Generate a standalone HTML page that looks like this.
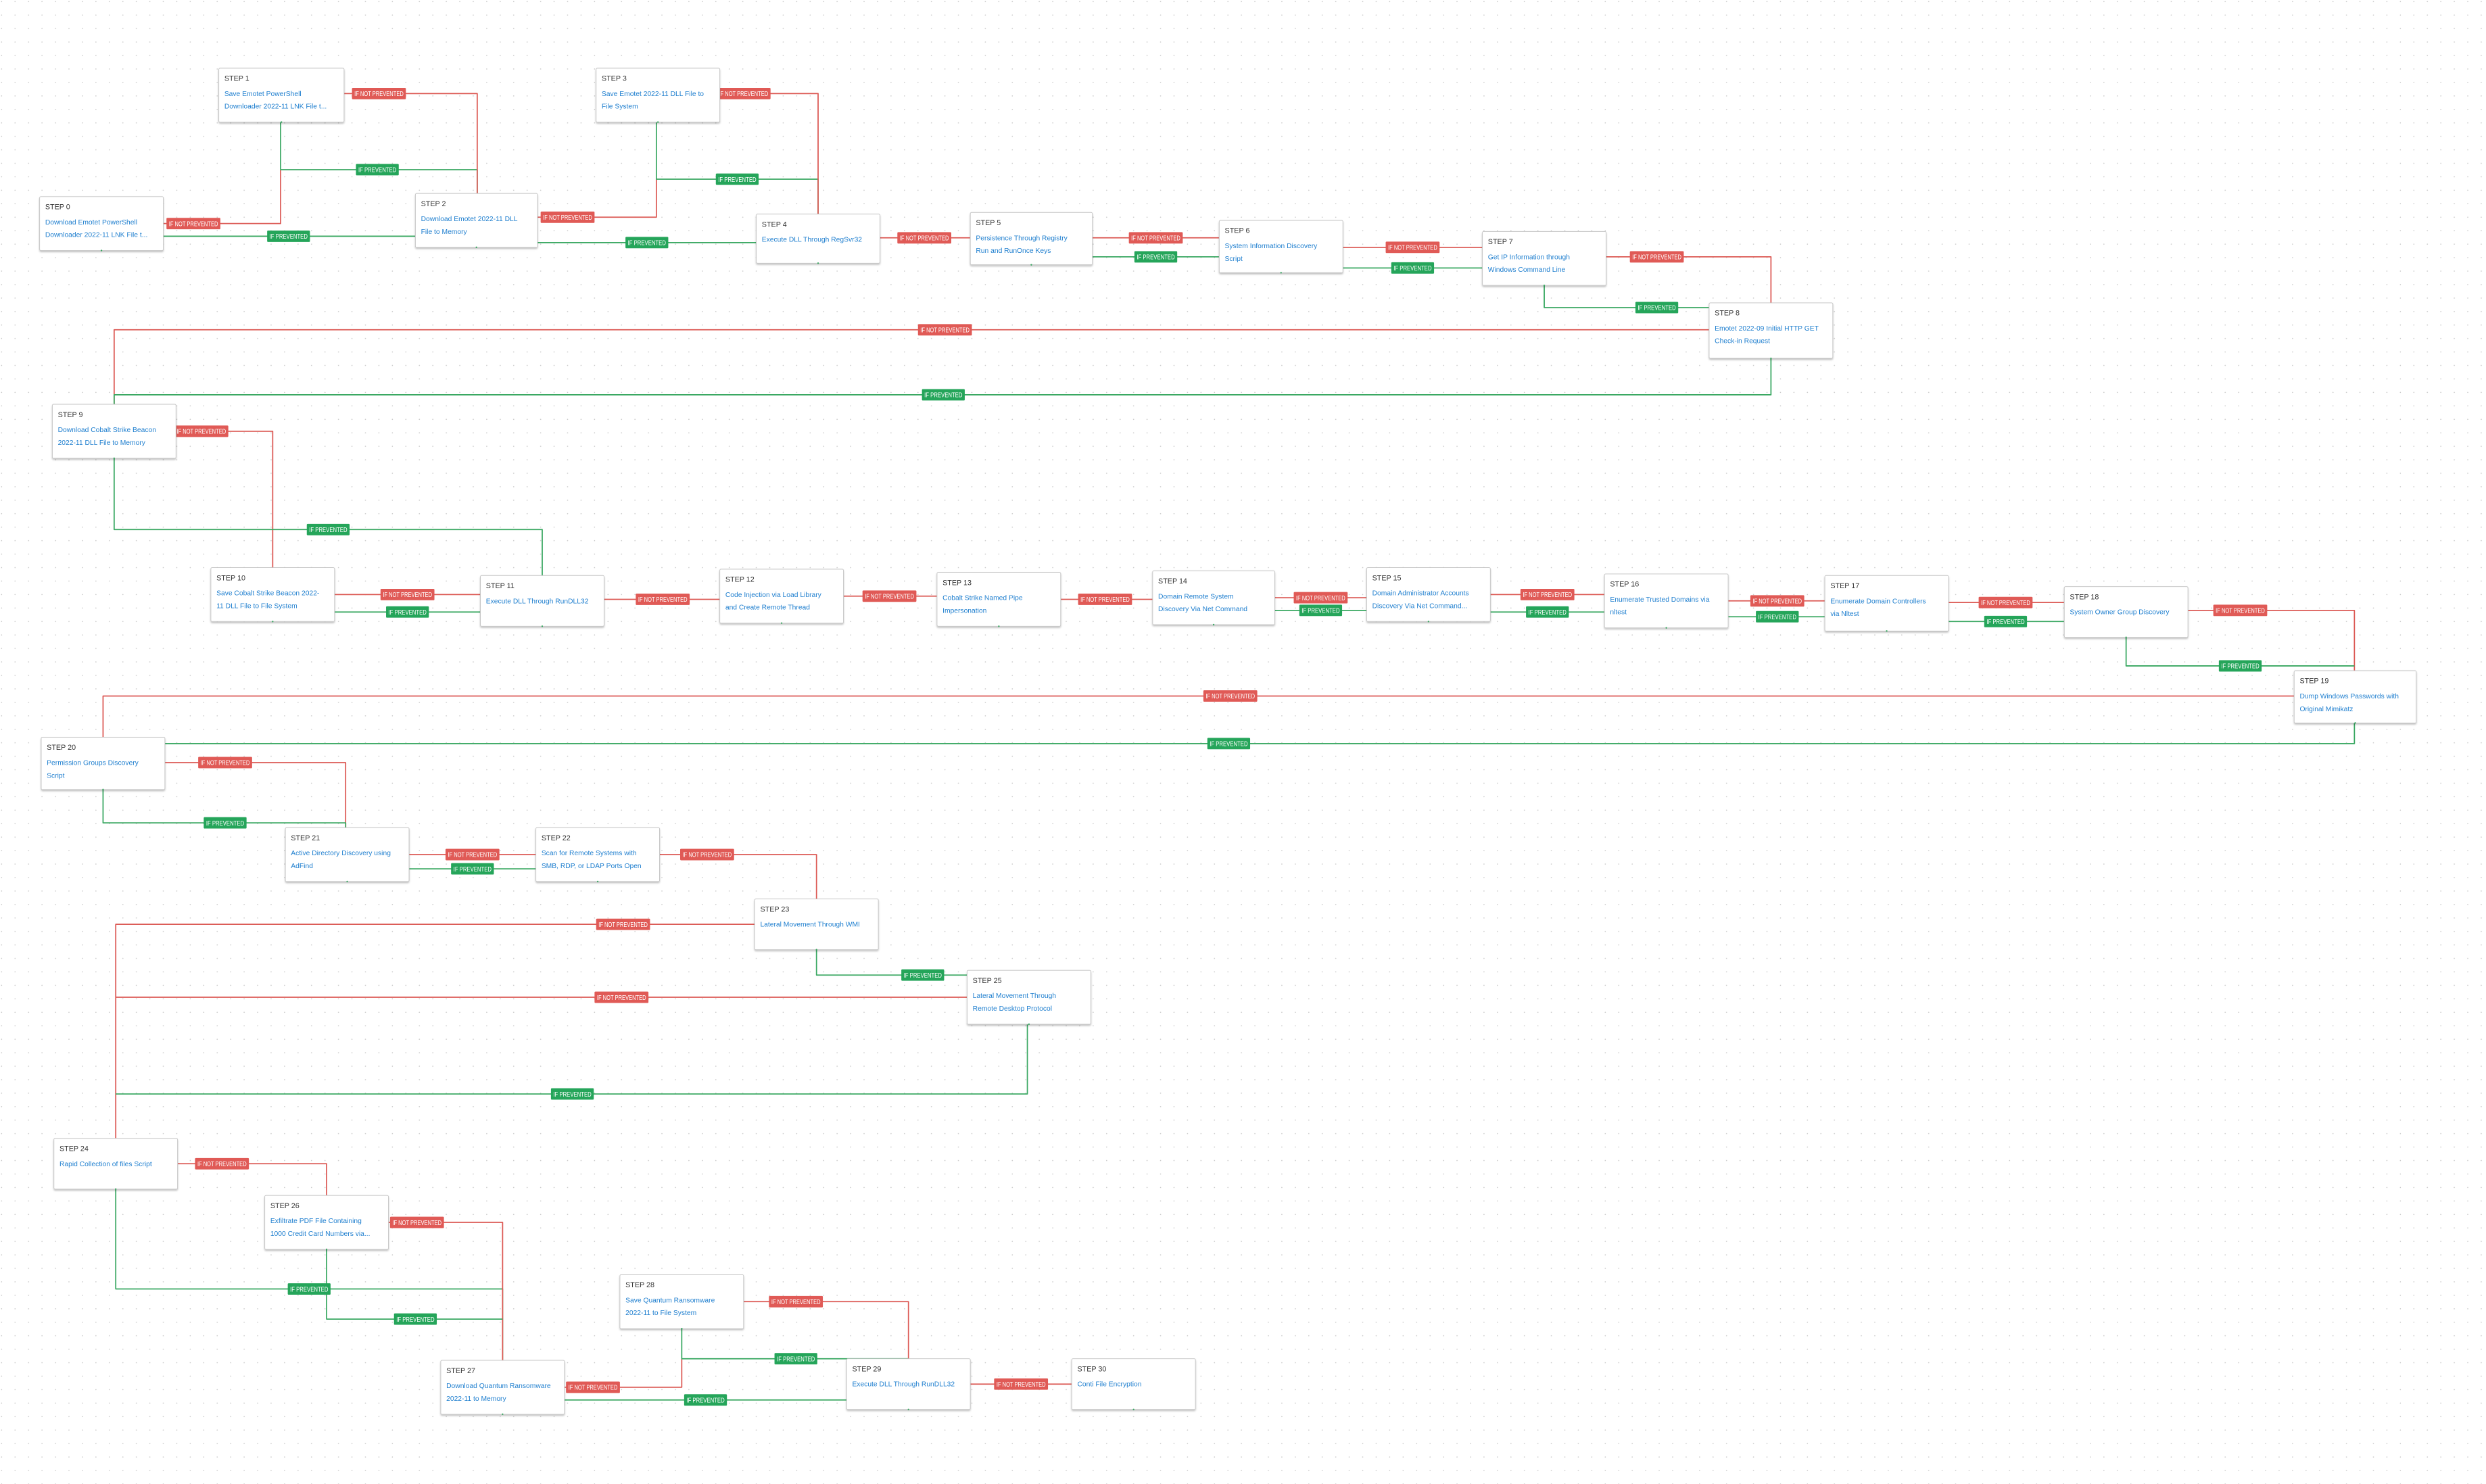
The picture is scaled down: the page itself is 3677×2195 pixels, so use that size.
<!DOCTYPE html>
<html><head><meta charset="utf-8">
<style>
html,body{margin:0;padding:0;background:#fff;}
svg{display:block;}
text{font-family:"Liberation Sans",sans-serif;}
</style></head>
<body>
<svg id="s" width="3677" height="2195" viewBox="0 0 1568 936" xmlns="http://www.w3.org/2000/svg">
<defs>
<pattern id="dots" width="8.5" height="8.5" patternUnits="userSpaceOnUse">
<circle cx="1" cy="1" r="0.35" fill="#c8c8c8"/>
</pattern>
<filter id="sh" x="-10%" y="-10%" width="120%" height="130%">
<feDropShadow dx="0" dy="0.8" stdDeviation="0.6" flood-color="#000" flood-opacity="0.25"/>
</filter>
</defs>
<rect width="1568" height="936" fill="url(#dots)"/>
<g id="edges"></g>
<g id="labels"></g>
<g id="nodes"></g>
</svg>
<script>
var NS="http://www.w3.org/2000/svg";
function el(t,a,p,txt){var e=document.createElementNS(NS,t);for(var k in a)e.setAttribute(k,a[k]);if(txt!==undefined)e.textContent=txt;p.appendChild(e);return e;}
var R="#dc5a55",G="#3aa862";
var edges=[
// [color, points, labelx, labely]
["r",[[103,141],[177,141],[177,107]],122,141],
["g",[[177,77],[177,107],[301,107],[301,122]],238,107],
["g",[[103,149],[262,149]],182,149],
["r",[[217,59],[301,59],[301,122]],239,59],
["r",[[339,137],[414,137],[414,113]],358,137],
["g",[[414,77],[414,113],[516,113],[516,135]],465,113],
["g",[[339,153],[477,153]],408,153],
["r",[[454,59],[516,59],[516,135]],469,59],
["r",[[555,150],[612,150]],583,150],
["r",[[689,150],[769,150]],729,150],
["g",[[689,162],[769,162]],729,162],
["r",[[847,156],[935,156]],891,156],
["g",[[847,169],[935,169]],891,169],
["r",[[1013,162],[1117,162],[1117,191]],1045,162],
["g",[[974,180],[974,194],[1078,194]],1045,194],
["r",[[1078,208],[72,208],[72,255]],596,208],
["g",[[1117,226],[1117,249],[72,249],[72,255]],595,249],
["r",[[111,272],[172,272],[172,358]],127,272],
["g",[[72,289],[72,334],[342,334],[342,363]],207,334],
["r",[[211,375],[303,375]],257,375],
["g",[[211,386],[303,386]],257,386],
["r",[[381,378],[454,378]],418,378],
["r",[[532,376],[591,376]],561,376],
["r",[[669,378],[727,378]],697,378],
["r",[[804,377],[862,377]],833,377],
["g",[[804,385],[862,385]],833,385],
["r",[[940,375],[1012,375]],976,375],
["g",[[940,386],[1012,386]],976,386],
["r",[[1090,379],[1151,379]],1121,379],
["g",[[1090,389],[1151,389]],1121,389],
["r",[[1229,380],[1302,380]],1265,380],
["g",[[1229,392],[1302,392]],1265,392],
["r",[[1380,385],[1485,385],[1485,423]],1413,385],
["g",[[1341,402],[1341,420],[1485,420]],1413,420],
["r",[[1447,439],[65,439],[65,465]],776,439],
["g",[[1485,456],[1485,469],[65,469]],775,469],
["r",[[104,481],[218,481],[218,522]],142,481],
["g",[[65,498],[65,519],[218,519],[218,522]],142,519],
["r",[[258,539],[338,539]],298,539],
["g",[[258,548],[338,548]],298,548],
["r",[[416,539],[515,539],[515,567]],446,539],
["r",[[476,583],[73,583],[73,718]],393,583],
["g",[[515,599],[515,615],[610,615]],582,615],
["r",[[610,629],[73,629]],392,629],
["g",[[648,646],[648,690],[73,690]],361,690],
["r",[[112,734],[206,734],[206,754]],140,734],
["g",[[73,750],[73,813],[317,813],[317,858]],195,813],
["r",[[245,771],[317,771],[317,858]],263,771],
["g",[[206,788],[206,832],[317,832]],262,832],
["r",[[356,875],[430,875],[430,857]],374,875],
["g",[[430,838],[430,857],[573,857]],502,857],
["r",[[469,821],[573,821],[573,857]],502,821],
["g",[[356,883],[534,883]],445,883],
["r",[[612,873],[676,873]],644,873]
];
var eg=document.getElementById("edges"),lg=document.getElementById("labels"),ng=document.getElementById("nodes");
edges.forEach(function(e){
 var c=e[0]=="r"?R:G;
 el("polyline",{points:e[1].map(function(p){return p.join(",")}).join(" "),fill:"none",stroke:c,"stroke-width":0.75,"stroke-linejoin":"round"},eg);
 var t=e[0]=="r"?"IF NOT PREVENTED":"IF PREVENTED";
 var w=e[0]=="r"?34:27;
 el("rect",{x:e[2]-w/2,y:e[3]-3.6,width:w,height:7.2,rx:0.6,fill:e[0]=="r"?"#e05a56":"#25a55a"},lg);
 el("text",{x:e[2],y:e[3]+1.6,"font-size":4.2,fill:"#fff","text-anchor":"middle",textLength:w-3,lengthAdjust:"spacingAndGlyphs"},lg,t);
});
var nodes=[
["STEP 0",25,124,103,158,"Download Emotet PowerShell","Downloader 2022-11 LNK File t..."],
["STEP 1",138,43,217,77,"Save Emotet PowerShell","Downloader 2022-11 LNK File t..."],
["STEP 2",262,122,339,156,"Download Emotet 2022-11 DLL","File to Memory"],
["STEP 3",376,43,454,77,"Save Emotet 2022-11 DLL File to","File System"],
["STEP 4",477,135,555,166,"Execute DLL Through RegSvr32",""],
["STEP 5",612,134,689,167,"Persistence Through Registry","Run and RunOnce Keys"],
["STEP 6",769,139,847,172,"System Information Discovery","Script"],
["STEP 7",935,146,1013,180,"Get IP Information through","Windows Command Line"],
["STEP 8",1078,191,1156,226,"Emotet 2022-09 Initial HTTP GET","Check-in Request"],
["STEP 9",33,255,111,289,"Download Cobalt Strike Beacon","2022-11 DLL File to Memory"],
["STEP 10",133,358,211,392,"Save Cobalt Strike Beacon 2022-","11 DLL File to File System"],
["STEP 11",303,363,381,395,"Execute DLL Through RunDLL32",""],
["STEP 12",454,359,532,393,"Code Injection via Load Library","and Create Remote Thread"],
["STEP 13",591,361,669,395,"Cobalt Strike Named Pipe","Impersonation"],
["STEP 14",727,360,804,394,"Domain Remote System","Discovery Via Net Command"],
["STEP 15",862,358,940,392,"Domain Administrator Accounts","Discovery Via Net Command..."],
["STEP 16",1012,362,1090,396,"Enumerate Trusted Domains via","nltest"],
["STEP 17",1151,363,1229,398,"Enumerate Domain Controllers","via Nltest"],
["STEP 18",1302,370,1380,402,"System Owner Group Discovery",""],
["STEP 19",1447,423,1524,456,"Dump Windows Passwords with","Original Mimikatz"],
["STEP 20",26,465,104,498,"Permission Groups Discovery","Script"],
["STEP 21",180,522,258,556,"Active Directory Discovery using","AdFind"],
["STEP 22",338,522,416,556,"Scan for Remote Systems with","SMB, RDP, or LDAP Ports Open"],
["STEP 23",476,567,554,599,"Lateral Movement Through WMI",""],
["STEP 24",34,718,112,750,"Rapid Collection of files Script",""],
["STEP 25",610,612,688,646,"Lateral Movement Through","Remote Desktop Protocol"],
["STEP 26",167,754,245,788,"Exfiltrate PDF File Containing","1000 Credit Card Numbers via..."],
["STEP 27",278,858,356,892,"Download Quantum Ransomware","2022-11 to Memory"],
["STEP 28",391,804,469,838,"Save Quantum Ransomware","2022-11 to File System"],
["STEP 29",534,857,612,889,"Execute DLL Through RunDLL32",""],
["STEP 30",676,857,754,889,"Conti File Encryption",""]
];
nodes.forEach(function(n){
 var x=n[1],y=n[2],w=n[3]-n[1],h=n[4]-n[2];
 el("rect",{x:x,y:y,width:w,height:h,rx:0.8,fill:"#fff",stroke:"#c4c4c4","stroke-width":0.4,filter:"url(#sh)"},ng);
 el("text",{x:x+3.5,y:y+8,"font-size":4.6,fill:"#333"},ng,n[0]);
 el("text",{x:x+3.5,y:y+17.5,"font-size":4.4,fill:"#1f7fcf"},ng,n[5]);
 if(n[6])el("text",{x:x+3.5,y:y+25.5,"font-size":4.4,fill:"#1f7fcf"},ng,n[6]);
 el("circle",{cx:x+w/2,cy:y+h,r:0.5,fill:G},ng);
});
</script>
</body></html>
